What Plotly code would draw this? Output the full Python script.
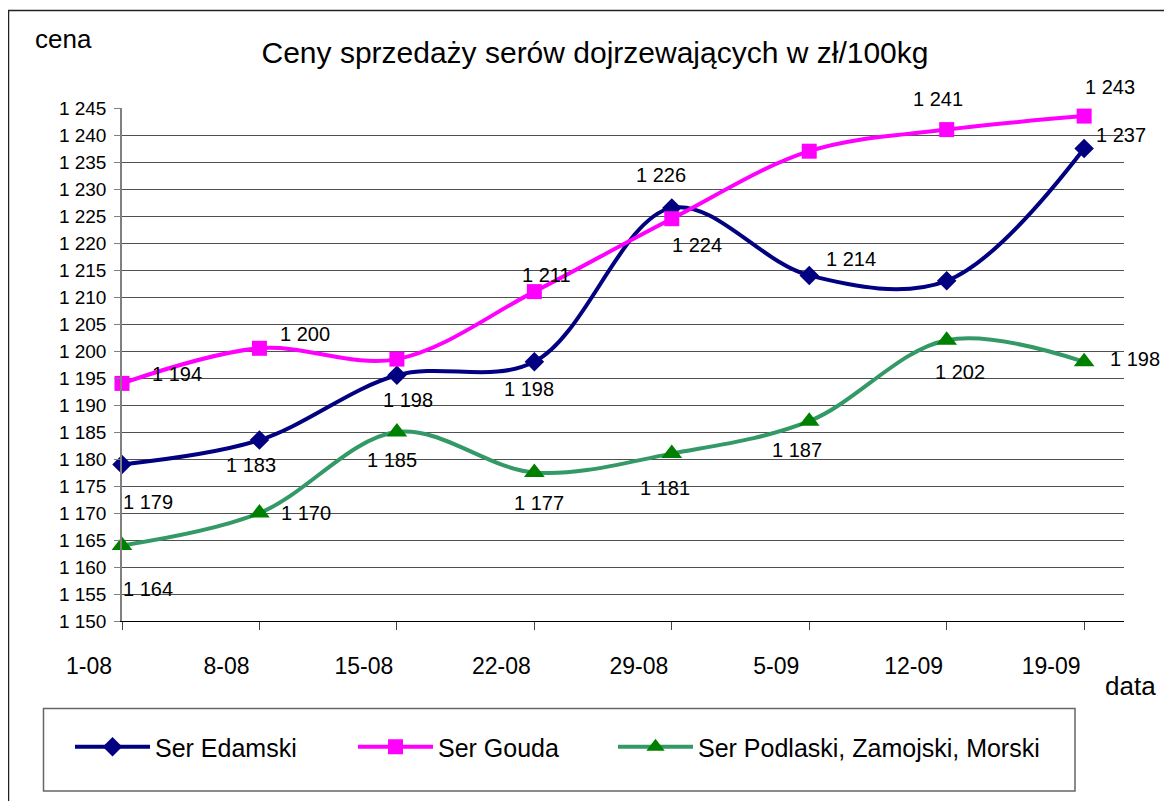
import plotly.graph_objects as go

# ---------------- data ----------------
dates = ["1-08", "8-08", "15-08", "22-08", "29-08", "5-09", "12-09", "19-09"]

edamski = [1179, 1183.5, 1195.5, 1198, 1226.5, 1214, 1213, 1237.5]
gouda = [1194, 1200.5, 1198.5, 1211, 1224.5, 1237, 1241, 1243.5]
podlaski = [1164, 1170, 1185, 1177.5, 1181, 1187, 1202, 1198]

edamski_labels = ["1 179", "1 183", "1 198", "1 198", "1 226", "1 214", None, "1 237"]
gouda_labels = ["1 194", "1 200", None, "1 211", "1 224", None, "1 241", "1 243"]
podlaski_labels = ["1 164", "1 170", "1 185", "1 177", "1 181", "1 187", "1 202", "1 198"]

y_ticks = list(range(1150, 1246, 5))
y_tick_text = ["1 %03d" % (v - 1000) for v in y_ticks]

series_names = ["Ser Edamski", "Ser Gouda", "Ser Podlaski, Zamojski, Morski"]

# ---------------- styling / positions ----------------
FONT = "Arial, Liberation Sans, sans-serif"
OFF = 8  # page body margin
W, H = 1172 - OFF, 801 - OFF
ML, MT = 122 - OFF, 108 - OFF
PLOT_R, PLOT_B = 1124 - OFF, 621 - OFF
MR, MB = W - PLOT_R, H - PLOT_B
PW, PH = PLOT_R - ML, PLOT_B - MT

def px_x(p):
    return (p - OFF - ML) / PW

def px_y(p):
    return (PLOT_B - (p - OFF)) / PH

# label offsets in screen pixels (dx right, dy down) relative to the point
edamski_off = [(26, 38), (-8, 25), (11, 25), (-5, 27), (-11, -33), (42, -16), None, (37, -14)]
gouda_off = [(55, -9), (46, -14), None, (12, -17), (25, 26), None, (-9, -31), (26, -29)]
podlaski_off = [(26, 44), (47, 0), (-5, 28), (5, 30), (-7, 34), (-12, 29), (13, 32), (51, -3)]

styles = [
    dict(line="#000080", marker="#000080", symbol="diamond", size=15),
    dict(line="#FF00FF", marker="#FF00FF", symbol="square", size=15),
    dict(line="#339966", marker="#008000", symbol="triangle-up", size=18),
]

fig = go.Figure()
all_vals = [edamski, gouda, podlaski]
legends = ["legend", "legend2", "legend3"]
for name, vals, st, lg in zip(series_names, all_vals, styles, legends):
    fig.add_trace(go.Scatter(
        x=dates, y=vals, name=name, mode="lines+markers",
        line=dict(color=st["line"], width=4, shape="spline", smoothing=1.0),
        marker=dict(color=st["marker"], symbol=st["symbol"], size=st["size"]),
        cliponaxis=False, legend=lg,
    ))

annotations = []
for vals, labels, offs in [(edamski, edamski_labels, edamski_off),
                           (gouda, gouda_labels, gouda_off),
                           (podlaski, podlaski_labels, podlaski_off)]:
    for d, v, lab, off in zip(dates, vals, labels, offs):
        if lab is None:
            continue
        annotations.append(dict(
            x=d, y=v, xref="x", yref="y", text=lab, showarrow=False,
            xshift=off[0], yshift=-off[1],
            font=dict(family=FONT, size=20, color="black"),
        ))

annotations.append(dict(text="cena", xref="paper", yref="paper", x=px_x(33), y=px_y(39),
                        xanchor="left", yanchor="middle", showarrow=False,
                        font=dict(family=FONT, size=26, color="black")))
annotations.append(dict(text="data", xref="paper", yref="paper", x=px_x(1130), y=px_y(686),
                        xanchor="center", yanchor="middle", showarrow=False,
                        font=dict(family=FONT, size=26, color="black")))

shapes = [
    # outer chart frame
    dict(type="rect", xref="paper", yref="paper", x0=px_x(8.5), x1=px_x(1250),
         y0=px_y(10.5), y1=px_y(900), line=dict(color="#222222", width=1.5),
         fillcolor="rgba(0,0,0,0)", layer="below"),
    # legend frame
    dict(type="rect", xref="paper", yref="paper", x0=px_x(43.5), x1=px_x(1075),
         y0=px_y(708.5), y1=px_y(791), line=dict(color="#666666", width=1.5),
         fillcolor="rgba(0,0,0,0)", layer="below"),
]

leg_common = dict(orientation="h", yanchor="middle", xanchor="left",
                  bgcolor="rgba(0,0,0,0)", borderwidth=0,
                  font=dict(family=FONT, size=25, color="black"), itemwidth=75)

fig.update_layout(
    width=W, height=H,
    margin=dict(l=ML, r=MR, t=MT, b=MB),
    paper_bgcolor="white", plot_bgcolor="white",
    title=dict(text="Ceny sprzedaży serów dojrzewających w zł/100kg",
               xref="container", yref="container", x=(595 - OFF) / W, y=1 - (52 - OFF) / H,
               xanchor="center", yanchor="middle",
               font=dict(family=FONT, size=30, color="black")),
    xaxis=dict(type="category", range=[0, 7.29], showgrid=False,
               showline=True, linecolor="black", linewidth=1,
               ticks="outside", ticklen=8, tickcolor="#444444",
               tickfont=dict(family=FONT, size=23, color="black"),
               ticklabelshift=-33, ticklabelstandoff=16, zeroline=False),
    yaxis=dict(range=[1150, 1245], tickvals=y_ticks, ticktext=y_tick_text,
               showgrid=True, gridcolor="#505050", gridwidth=1,
               showline=True, linecolor="#808080", linewidth=1.5,
               ticks="outside", ticklen=6, tickcolor="#808080",
               tickfont=dict(family=FONT, size=19, color="black"),
               ticklabelstandoff=4, zeroline=False),
    showlegend=True,
    legend=dict(x=px_x(70), y=px_y(747), **leg_common),
    legend2=dict(x=px_x(353), y=px_y(747), **leg_common),
    legend3=dict(x=px_x(613), y=px_y(747), **leg_common),
    annotations=annotations,
    shapes=shapes,
)

fig.write_html("out.html")
